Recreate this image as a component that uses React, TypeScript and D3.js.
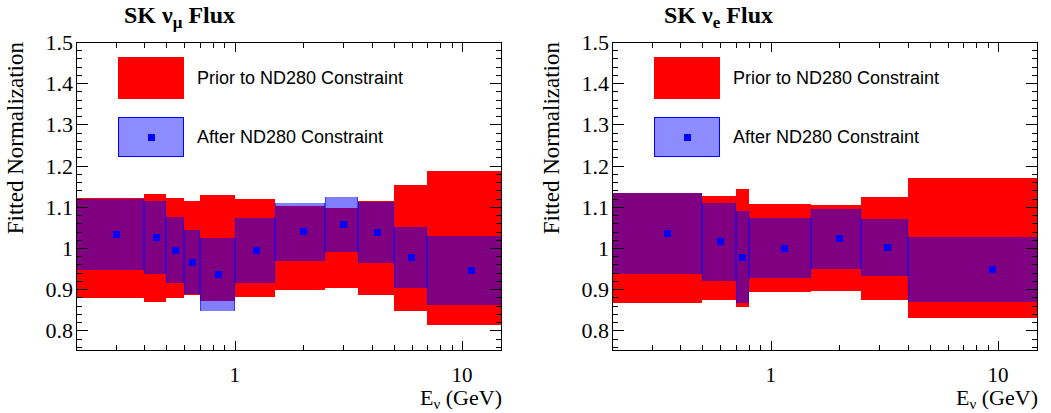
import React from 'react';
import * as d3 from 'd3';

// bin edges (GeV), clipped to the visible axis range
const NUMU_EDGES = [0.2, 0.4, 0.5, 0.6, 0.7, 1.0, 1.5, 2.5, 3.5, 5.0, 7.0, 15];
const NUMU_PRIOR_ERR = [0.121, 0.13, 0.122, 0.115, 0.129, 0.118, 0.101, 0.097, 0.113, 0.153, 0.188];
const NUMU_POST_VAL = [1.032, 1.025, 0.995, 0.966, 0.935, 0.994, 1.039, 1.057, 1.037, 0.976, 0.945];
const NUMU_POST_ERR = [0.086, 0.088, 0.081, 0.078, 0.089, 0.078, 0.07, 0.066, 0.074, 0.074, 0.084];

const NUE_EDGES = [0.2, 0.5, 0.7, 0.8, 1.5, 2.5, 4.0, 15];
const NUE_PRIOR_ERR = [0.133, 0.126, 0.142, 0.106, 0.105, 0.125, 0.169];
const NUE_POST_VAL = [1.035, 1.015, 0.978, 1.0, 1.022, 1.002, 0.948];
const NUE_POST_ERR = [0.099, 0.094, 0.112, 0.074, 0.073, 0.069, 0.079];

const Y_MAJOR = [0.8, 0.9, 1.0, 1.1, 1.2, 1.3, 1.4, 1.5];
const X_MAJOR = [1, 10];
const X_MINOR = [0.3, 0.4, 0.5, 0.6, 0.7, 0.8, 0.9, 2, 3, 4, 5, 6, 7, 8, 9];

const SERIF = 'Liberation Serif, Times New Roman, serif';
const SANS = 'Liberation Sans, Arial, sans-serif';
const RED = '#ff0000';
const BLUE = '#0000ff';

const TOP = 42;
const BOTTOM = 351;
const W = 426;

function Panel({ left, flavour, edges, priorErr, postVal, postErr, titleDx }) {
  const x = d3.scaleLog().domain([0.2, 15]).range([left, left + W]);
  const y = d3.scaleLinear().domain([0.75, 1.5]).range([BOTTOM, TOP]);
  const bins = d3.range(edges.length - 1).map((i) => ({
    x0: Math.round(x(edges[i])),
    x1: Math.round(x(edges[i + 1])),
    xc: x((edges[i] + edges[i + 1]) / 2),
    pLo: Math.round(y(1 - priorErr[i])),
    pHi: Math.round(y(1 + priorErr[i])),
    v: y(postVal[i]),
    lo: Math.round(y(postVal[i] - postErr[i])),
    hi: Math.round(y(postVal[i] + postErr[i])),
  }));
  const yMinor = d3.range(0.76, 1.5, 0.02).filter((v) => Math.abs(Math.round(v * 10) - v * 10) > 0.01);
  const fmt = (v) => (Math.abs(v - 1) < 1e-9 ? '1' : v.toFixed(1));

  return (
    <g>
      {bins.map((b, i) => (
        <rect key={'p' + i} x={b.x0} y={b.pHi} width={b.x1 - b.x0} height={b.pLo - b.pHi} fill={RED} />
      ))}
      {bins.map((b, i) => (
        <rect key={'a' + i} x={b.x0} y={b.hi} width={b.x1 - b.x0} height={b.lo - b.hi}
          fill={BLUE} fillOpacity={0.5} />
      ))}
      {bins.map((b, i) => (
        <g key={'e' + i} stroke={BLUE} strokeOpacity={0.55} strokeWidth={1}>
          <line x1={b.x0 + 0.5} x2={b.x0 + 0.5} y1={b.hi} y2={b.lo} />
          <line x1={b.x1 - 0.5} x2={b.x1 - 0.5} y1={b.hi} y2={b.lo} />
        </g>
      ))}
      {bins.map((b, i) => (
        <rect key={'m' + i} x={Math.round(b.xc - 3.5)} y={Math.round(b.v - 3.5)} width={7} height={7} fill={BLUE} />
      ))}

      {/* legend */}
      <rect x={left + 42} y={57} width={66} height={42} fill={RED} />
      <rect x={left + 42.5} y={117.5} width={65} height={39} fill={BLUE} fillOpacity={0.45} stroke={BLUE} strokeWidth={1} />
      <rect x={left + 72} y={134} width={7} height={7} fill={BLUE} />
      <text x={left + 121} y={84} fontFamily={SANS} fontSize={18}>Prior to ND280 Constraint</text>
      <text x={left + 121} y={143} fontFamily={SANS} fontSize={18}>After ND280 Constraint</text>

      {/* frame */}
      <rect x={left + 0.5} y={TOP + 0.5} width={W - 1} height={BOTTOM - TOP - 1} fill="none" stroke="#000" strokeWidth={1} />
      <g stroke="#000" strokeWidth={1}>
        {Y_MAJOR.map((v) => {
          const yy = Math.round(y(v)) + 0.5;
          return (
            <g key={'ym' + v}>
              <line x1={left} x2={left + 12} y1={yy} y2={yy} />
              <line x1={left + W - 12} x2={left + W} y1={yy} y2={yy} />
            </g>
          );
        })}
        {yMinor.map((v) => {
          const yy = Math.round(y(v)) + 0.5;
          return (
            <g key={'yn' + v}>
              <line x1={left} x2={left + 6} y1={yy} y2={yy} />
              <line x1={left + W - 6} x2={left + W} y1={yy} y2={yy} />
            </g>
          );
        })}
        {X_MAJOR.map((v) => {
          const xx = Math.round(x(v)) + 0.5;
          return (
            <g key={'xm' + v}>
              <line x1={xx} x2={xx} y1={BOTTOM} y2={BOTTOM - 10} />
              <line x1={xx} x2={xx} y1={TOP} y2={TOP + 10} />
            </g>
          );
        })}
        {X_MINOR.map((v) => {
          const xx = Math.round(x(v)) + 0.5;
          return (
            <g key={'xn' + v}>
              <line x1={xx} x2={xx} y1={BOTTOM} y2={BOTTOM - 6} />
              <line x1={xx} x2={xx} y1={TOP} y2={TOP + 6} />
            </g>
          );
        })}
      </g>

      {/* labels */}
      {Y_MAJOR.map((v) => (
        <text key={'yl' + v} x={left - 3} y={y(v) + 8} textAnchor="end" fontFamily={SERIF} fontSize={22}>{fmt(v)}</text>
      ))}
      {X_MAJOR.map((v) => (
        <text key={'xl' + v} x={x(v)} y={382} textAnchor="middle" fontFamily={SERIF} fontSize={21}>{v}</text>
      ))}
      <text x={left + W} y={405} textAnchor="end" fontFamily={SERIF} fontSize={22}>
        E<tspan dy={4} fontSize={15}>ν</tspan><tspan dy={-4}> (GeV)</tspan>
      </text>
      <text transform={`translate(${left - 53},${TOP}) rotate(-90)`} textAnchor="end" fontFamily={SERIF} fontSize={23}>
        Fitted Normalization
      </text>
      <text x={left + titleDx} y={23} fontFamily={SERIF} fontWeight="bold" fontSize={24}>
        SK ν<tspan dy={5} fontSize={17}>{flavour}</tspan><tspan dy={-5}> Flux</tspan>
      </text>
    </g>
  );
}

export default function App() {
  return (
    <svg width={1051} height={413} style={{ position: 'absolute', left: 0, top: 0, background: '#fff' }}
      shapeRendering="crispEdges">
      <Panel left={76} flavour="μ" edges={NUMU_EDGES} priorErr={NUMU_PRIOR_ERR}
        postVal={NUMU_POST_VAL} postErr={NUMU_POST_ERR} titleDx={48} />
      <Panel left={612} flavour="e" edges={NUE_EDGES} priorErr={NUE_PRIOR_ERR}
        postVal={NUE_POST_VAL} postErr={NUE_POST_ERR} titleDx={52} />
    </svg>
  );
}
